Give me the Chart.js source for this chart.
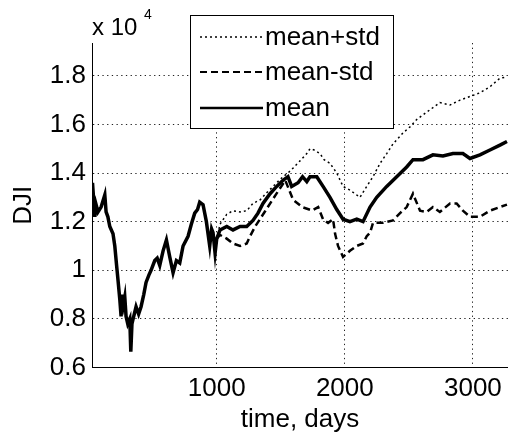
<!DOCTYPE html>
<html>
<head>
<meta charset="utf-8">
<script src="https://cdn.jsdelivr.net/npm/chart.js@4.4.1/dist/chart.umd.min.js"></script>
<style>
  body { margin: 0; background: #fff; }
  canvas { display: block; }
</style>
</head>
<body>
<canvas id="djiChart" width="508" height="436"></canvas>
<script>
// data (DJI in units of 10^4)
const meanDays = [30, 48, 58, 73, 97, 126, 136, 150, 165, 190, 204, 218, 229, 243, 253, 262, 272, 282, 292, 305,
  321, 329, 338, 347, 370, 390, 409, 430, 448, 470, 487, 516, 535, 555, 581, 607, 633, 659, 685, 711,
  737, 776, 802, 828, 850, 867, 893, 919, 945, 960, 971, 987, 1000, 1026, 1078, 1127, 1182, 1234, 1283, 1322,
  1361, 1416, 1468, 1517, 1556, 1585, 1635, 1670, 1703, 1728, 1781, 1830, 1884, 1937, 1986, 2040, 2093, 2142, 2197, 2249,
  2327, 2405, 2483, 2532, 2610, 2688, 2766, 2844, 2922, 2977, 3055, 3133, 3211, 3266];
const meanVals = [1.36, 1.22, 1.27, 1.24, 1.26, 1.31, 1.24, 1.22, 1.18, 1.15, 1.10, 1.02, 0.96, 0.88, 0.81, 0.90, 0.86, 0.89, 0.81, 0.78,
  0.80, 0.665, 0.78, 0.80, 0.85, 0.82, 0.85, 0.90, 0.95, 0.98, 1.0, 1.04, 1.05, 1.02, 1.08, 1.125, 1.055, 0.99, 1.04, 1.03,
  1.10, 1.14, 1.19, 1.235, 1.25, 1.28, 1.27, 1.20, 1.10, 1.17, 1.155, 1.07, 1.13, 1.166, 1.18, 1.166, 1.18, 1.18, 1.205, 1.235,
  1.275, 1.315, 1.345, 1.37, 1.385, 1.345, 1.36, 1.385, 1.365, 1.385, 1.385, 1.345, 1.30, 1.25, 1.21, 1.20, 1.21, 1.20, 1.26, 1.30,
  1.345, 1.385, 1.425, 1.455, 1.455, 1.475, 1.47, 1.48, 1.48, 1.46, 1.475, 1.495, 1.515, 1.53];

const upperDays = [1000, 1026, 1078, 1127, 1182, 1234, 1283, 1339, 1392, 1440, 1468, 1517, 1556, 1595, 1650, 1703, 1728, 1760, 1806, 1838,
  1884, 1937, 1986, 2040, 2118, 2171, 2220, 2275, 2327, 2376, 2454, 2509, 2561, 2664, 2742, 2821, 2899, 2977, 3055, 3133,
  3211, 3266];
const upperVals = [1.13, 1.19, 1.23, 1.245, 1.24, 1.245, 1.275, 1.29, 1.32, 1.345, 1.36, 1.385, 1.40, 1.42, 1.45, 1.48, 1.50, 1.495, 1.48, 1.455,
  1.44, 1.40, 1.345, 1.33, 1.30, 1.345, 1.385, 1.44, 1.48, 1.52, 1.565, 1.59, 1.62, 1.66, 1.69, 1.68, 1.70, 1.715, 1.73, 1.755,
  1.79, 1.795];

const lowerDays = [1000, 1026, 1078, 1127, 1182, 1234, 1260, 1300, 1380, 1460, 1535, 1596, 1667, 1745, 1792, 1830, 1869, 1908, 1924, 1947,
  1986, 2040, 2093, 2142, 2171, 2197, 2220, 2298, 2376, 2431, 2483, 2532, 2587, 2639, 2688, 2742, 2821, 2873, 2922, 2977,
  3055, 3133, 3211, 3266];
const lowerVals = [1.13, 1.145, 1.13, 1.11, 1.10, 1.11, 1.14, 1.18, 1.245, 1.31, 1.37, 1.29, 1.26, 1.246, 1.26, 1.21, 1.195, 1.21, 1.15, 1.10,
  1.055, 1.08, 1.10, 1.11, 1.14, 1.155, 1.195, 1.195, 1.205, 1.235, 1.26, 1.315, 1.245, 1.24, 1.26, 1.24, 1.275, 1.275, 1.245, 1.22,
  1.22, 1.245, 1.26, 1.27];

const xTicks = [1000, 2000, 3000];
const yTicks = [0.6, 0.8, 1.0, 1.2, 1.4, 1.6, 1.8];
const seriesLabels = ['mean+std', 'mean-std', 'mean'];

const FONT = 'Liberation Sans, Arial, sans-serif';

const toPoints = (xs, ys) => xs.map((x, i) => ({ x: x, y: ys[i] }));

// legend box and the "x 10^4" note, drawn on top of the plot
const overlay = {
  id: 'overlay',
  afterDraw(chart) {
    const ctx = chart.ctx;
    ctx.save();

    ctx.fillStyle = '#000';
    ctx.textAlign = 'left';
    ctx.textBaseline = 'alphabetic';
    ctx.font = '24px ' + FONT;
    ctx.fillText('x 10', 92, 35);
    ctx.font = '14px ' + FONT;
    ctx.fillText('4', 144, 19);

    const bx = 190, by = 15, bw = 203, bh = 113;
    ctx.fillStyle = '#fff';
    ctx.fillRect(bx, by, bw, bh);
    ctx.strokeStyle = '#000';
    ctx.lineWidth = 1;
    ctx.strokeRect(bx + 0.5, by + 0.5, bw, bh);

    const rows = [37, 72, 108];
    chart.data.datasets.forEach((ds, i) => {
      ctx.strokeStyle = '#000';
      ctx.lineWidth = ds.legendWidth;
      ctx.setLineDash(ds.borderDash || []);
      ctx.beginPath();
      ctx.moveTo(200, rows[i]);
      ctx.lineTo(263, rows[i]);
      ctx.stroke();
      ctx.setLineDash([]);
      ctx.fillStyle = '#000';
      ctx.font = '26px ' + FONT;
      ctx.textBaseline = 'middle';
      ctx.fillText(ds.label, 265, rows[i] + 1);
    });
    ctx.restore();
  }
};

new Chart(document.getElementById('djiChart'), {
  type: 'line',
  data: {
    datasets: [
      { label: seriesLabels[0], data: toPoints(upperDays, upperVals), borderColor: '#000', borderWidth: 1.5,
        borderDash: [2, 3], legendWidth: 1.5, pointRadius: 0, fill: false },
      { label: seriesLabels[1], data: toPoints(lowerDays, lowerVals), borderColor: '#000', borderWidth: 2.5,
        borderDash: [7, 4], legendWidth: 2, pointRadius: 0, fill: false },
      { label: seriesLabels[2], data: toPoints(meanDays, meanVals), borderColor: '#000', borderWidth: 3.5,
        legendWidth: 2.5, pointRadius: 0, fill: false }
    ]
  },
  options: {
    responsive: false,
    animation: false,
    devicePixelRatio: 1,
    layout: { padding: { top: 43, right: 0, left: 0, bottom: 0 } },
    plugins: {
      legend: { display: false },
      tooltip: { enabled: false }
    },
    scales: {
      x: {
        type: 'linear',
        min: 26,
        max: 3274,
        afterBuildTicks: function (scale) {
          scale.ticks = xTicks.map(v => ({ value: v }));
        },
        afterFit: function (scale) { scale.height = 68.5; },
        grid: { color: '#222', lineWidth: 1, drawTicks: false },
        border: { color: '#000', width: 1, dash: [1.3, 3.4] },
        ticks: {
          color: '#000', padding: 6, maxRotation: 0, font: { family: FONT, size: 26 },
          callback: function (value) { return String(value); }
        },
        title: { display: true, text: 'time, days', color: '#000', padding: { top: 0, bottom: 1 },
          font: { family: FONT, size: 26 } }
      },
      y: {
        min: 0.6,
        max: 1.935,
        afterBuildTicks: function (scale) {
          scale.ticks = yTicks.map(v => ({ value: v }));
        },
        afterFit: function (scale) { scale.width = 92; },
        grid: { color: '#222', lineWidth: 1, drawTicks: false },
        border: { color: '#000', width: 1, dash: [1.3, 3.4] },
        ticks: {
          color: '#000', padding: 6, font: { family: FONT, size: 26 },
          callback: function (value) { return String(Number(value.toFixed(1))); }
        },
        title: { display: true, text: 'DJI', color: '#000', padding: { top: 8, bottom: 0 },
          font: { family: FONT, size: 26 } }
      }
    }
  },
  plugins: [overlay]
});
</script>
</body>
</html>
